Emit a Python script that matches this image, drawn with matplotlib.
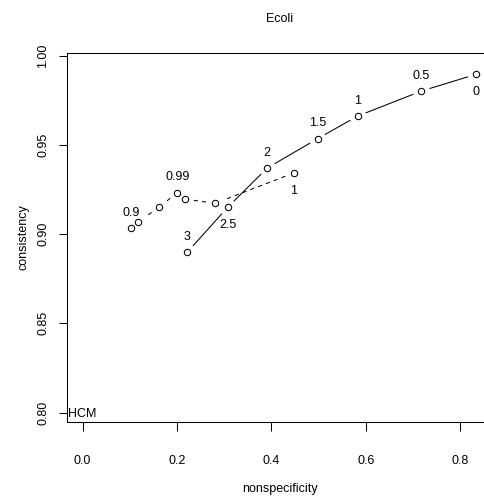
import matplotlib
matplotlib.use("Agg")
import matplotlib.pyplot as plt
import numpy as np

plt.rcParams['font.family'] = ['Liberation Sans', 'DejaVu Sans']

# solid series (labels are the parameter values)
solid_x = [0.834, 0.718, 0.583, 0.498, 0.3915, 0.3076, 0.222]
solid_y = [0.9896, 0.9802, 0.9662, 0.9535, 0.9371, 0.9151, 0.8899]
solid_lab = ["0", "0.5", "1", "1.5", "2", "2.5", "3"]
solid_pos = ["below", "above", "above", "above", "above", "below", "above"]

# dashed series, only some points are labelled
dash_x = [0.4475, 0.2807, 0.2172, 0.2008, 0.1621, 0.117, 0.1021]
dash_y = [0.9343, 0.9173, 0.9197, 0.9233, 0.9151, 0.9068, 0.9035]
dash_lab = ["1", "", "", "0.99", "", "", "0.9"]
dash_pos = ["below", "", "", "above", "", "", "above"]

xticks = [0.0, 0.2, 0.4, 0.6, 0.8]
yticks = [0.80, 0.85, 0.90, 0.95, 1.00]

W, H = 485, 498
fig = plt.figure(figsize=(W / 100, H / 100), dpi=100)
left, right, top, bottom = 66.7, 492.0, 52.7, 422.3
ax = fig.add_axes([left / W, 1 - bottom / H, (right - left) / W, (bottom - top) / H])
ax.set_xlim(-0.0335, 0.8676)
ax.set_ylim(0.7946, 1.0017)

fs = 9


def draw_b(xs, ys, **kw):
    # R type="b": lines stop short of the points
    gap = 9.0
    pts = ax.transData.transform(np.column_stack([xs, ys]))
    inv = ax.transData.inverted()
    for p0, p1 in zip(pts[:-1], pts[1:]):
        d = p1 - p0
        L = np.hypot(*d)
        if L <= 2 * gap:
            continue
        q = inv.transform(np.array([p0 + d / L * gap, p1 - d / L * gap]))
        ax.plot(q[:, 0], q[:, 1], color="black", lw=0.75, **kw)
    ax.plot(xs, ys, "o", ms=4.6, mfc="none", mec="black", mew=0.75, zorder=3)


def labels(xs, ys, labs, pos):
    for x, y, s, p in zip(xs, ys, labs, pos):
        if not s:
            continue
        off = 8.9 if p == "above" else -15.0
        ax.annotate(s, (x, y), xytext=(0, off), textcoords="offset points",
                    ha="center", va="baseline", fontsize=fs)


draw_b(solid_x, solid_y)
draw_b(dash_x, dash_y, dashes=(4, 4))
labels(solid_x, solid_y, solid_lab, solid_pos)
labels(dash_x, dash_y, dash_lab, dash_pos)

ax.annotate("HCM", (0.0, 0.80), xytext=(0, -3.3), textcoords="offset points",
            ha="center", va="baseline", fontsize=fs)

ax.set_xticks(xticks)
ax.set_xticklabels(["%.1f" % v for v in xticks])
ax.set_yticks(yticks)
ax.set_yticklabels(["%.2f" % v for v in yticks], rotation=90, va="center")
ax.tick_params(axis="x", length=6.3, width=0.75, pad=17, labelsize=fs)
ax.tick_params(axis="y", length=6.0, width=0.75, pad=6.5, labelsize=fs)
for s in ax.spines.values():
    s.set_linewidth(0.75)

fig.text(279.5 / W, 1 - 22.5 / H, "Ecoli", ha="center", va="baseline", fontsize=fs)
fig.text(279.5 / W, 1 - 488.5 / H, "nonspecificity", ha="center", va="center", fontsize=fs)
fig.text(23.5 / W, 1 - 237.5 / H, "consistency", ha="center", va="center",
         rotation=90, fontsize=fs)

fig.savefig("out.png", dpi=100)
